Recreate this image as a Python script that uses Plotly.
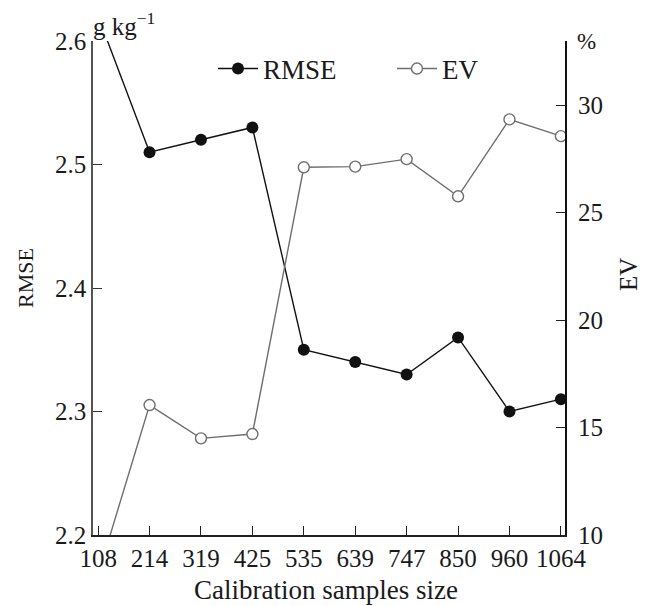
import plotly.graph_objects as go

categories = ["108", "214", "319", "425", "535", "639", "747", "850", "960", "1064"]
rmse = [2.62, 2.51, 2.52, 2.53, 2.35, 2.34, 2.33, 2.36, 2.30, 2.31]
ev = [8.15, 16.05, 14.5, 14.7, 27.12, 27.15, 27.5, 25.77, 29.35, 28.57]
rmse_ticks = [2.2, 2.3, 2.4, 2.5, 2.6]
ev_ticks = [10, 15, 20, 25, 30]

FONT = "Liberation Serif"
# page body has an 8px default margin, so the figure is 8px smaller
W, H = 638, 598
L, R, T, B = 85, 81, 33, 71
pw, ph = W - L - R, H - T - B

# helpers: screen pixel -> paper fraction
def px_x(x):
    return (x - 8 - L) / pw

def px_y(y):
    return (H - B - (y - 8)) / ph

fig = go.Figure()
fig.add_trace(go.Scatter(
    x=categories, y=rmse, name="RMSE", mode="lines+markers",
    line=dict(color="#111111", width=1.4),
    marker=dict(color="#111111", size=12, symbol="circle"),
    yaxis="y",
))
fig.add_trace(go.Scatter(
    x=categories, y=ev, name="EV", mode="lines+markers",
    line=dict(color="#6e6e6e", width=1.4),
    marker=dict(color="white", size=11, symbol="circle",
                line=dict(color="#6e6e6e", width=1.4)),
    yaxis="y2",
))

annotations = [
    dict(text="RMSE", x=px_x(25), y=px_y(278), xref="paper", yref="paper",
         textangle=-90, showarrow=False, xanchor="center", yanchor="middle",
         font=dict(family=FONT, size=22, color="#1a1a1a")),
    dict(text="EV", x=px_x(628), y=px_y(275), xref="paper", yref="paper",
         textangle=-90, showarrow=False, xanchor="center", yanchor="middle",
         font=dict(family=FONT, size=25, color="#1a1a1a")),
    dict(text="Calibration samples size", x=px_x(326), y=px_y(590), xref="paper", yref="paper",
         showarrow=False, xanchor="center", yanchor="middle",
         font=dict(family=FONT, size=27, color="#1a1a1a")),
    dict(text="g kg<sup>−1</sup>", x=px_x(91), y=px_y(24), xref="paper", yref="paper",
         showarrow=False, xanchor="left", yanchor="middle",
         font=dict(family=FONT, size=25, color="#1a1a1a")),
    dict(text="%", x=px_x(586), y=px_y(42), xref="paper", yref="paper",
         showarrow=False, xanchor="center", yanchor="middle",
         font=dict(family=FONT, size=23, color="#1a1a1a")),
]
# right-axis tick labels, placed at their tick values on y2
for v in ev_ticks:
    annotations.append(dict(
        text=str(v), x=px_x(576), y=v, xref="paper", yref="y2",
        showarrow=False, xanchor="left", yanchor="middle",
        font=dict(family=FONT, size=25, color="#1a1a1a"),
    ))

fig.update_layout(
    width=W, height=H,
    margin=dict(l=L, r=R, t=T, b=B, pad=0, autoexpand=False),
    paper_bgcolor="white", plot_bgcolor="white",
    font=dict(family=FONT, size=22, color="#1a1a1a"),
    showlegend=True,
    legend=dict(
        orientation="h", x=px_x(213), y=px_y(69), xanchor="left", yanchor="middle",
        font=dict(family=FONT, size=27, color="#1a1a1a"),
        bgcolor="rgba(0,0,0,0)", itemwidth=40, tracegroupgap=0,
        entrywidth=124, entrywidthmode="pixels",
    ),
    xaxis=dict(
        type="category", range=[-0.1, 9.08],
        showline=True, linecolor="#222222", linewidth=1.5,
        ticks="inside", ticklen=9, tickwidth=1.3, tickcolor="#222222",
        showgrid=False, zeroline=False,
        tickfont=dict(family=FONT, size=25, color="#1a1a1a"),
        fixedrange=True, automargin=False,
    ),
    yaxis=dict(
        range=[2.2, 2.6], tickvals=rmse_ticks, ticktext=[f"{v:.1f}" for v in rmse_ticks],
        showline=True, linecolor="#555555", linewidth=1.5,
        ticks="inside", ticklen=9, tickwidth=1.3, tickcolor="#333333",
        showgrid=False, zeroline=False,
        tickfont=dict(family=FONT, size=25, color="#1a1a1a"),
        automargin=False,
    ),
    yaxis2=dict(
        range=[10, 33], tickvals=ev_ticks, showticklabels=False,
        overlaying="y", side="right", anchor="x",
        showline=True, linecolor="#111111", linewidth=1.5,
        ticks="inside", ticklen=9, tickwidth=1.3, tickcolor="#222222",
        showgrid=False, zeroline=False,
        automargin=False,
    ),
    annotations=annotations,
)

fig.write_html("out.html")
